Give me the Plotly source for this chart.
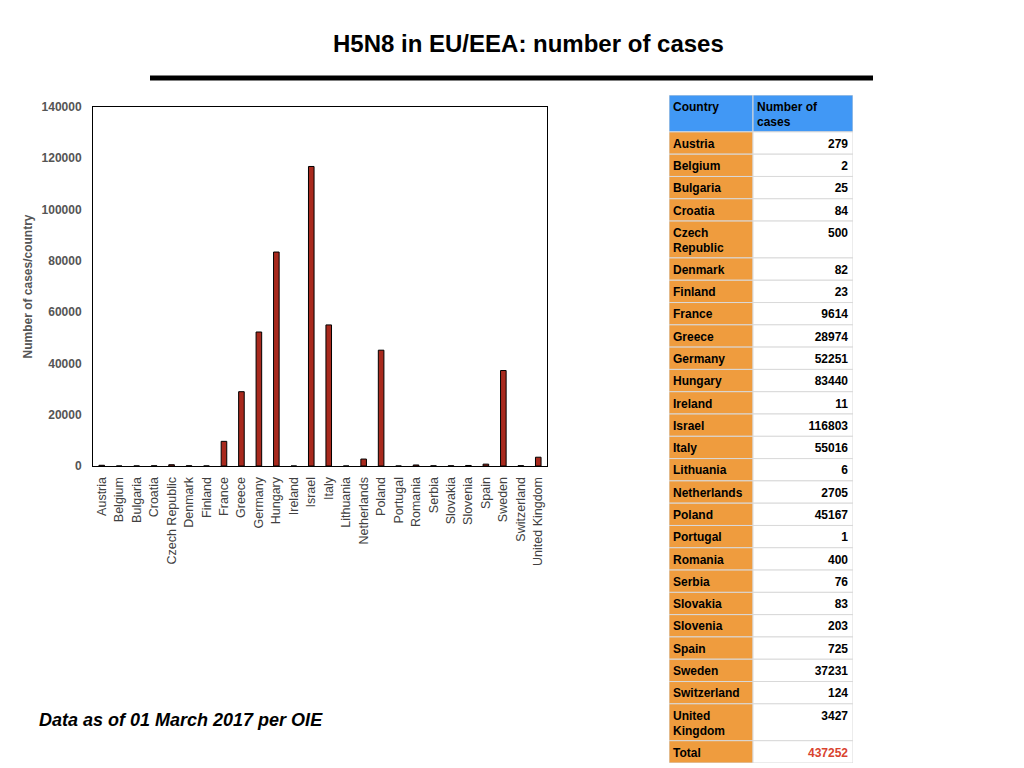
import plotly.graph_objects as go

countries = ['Austria', 'Belgium', 'Bulgaria', 'Croatia', 'Czech Republic', 'Denmark', 'Finland',
             'France', 'Greece', 'Germany', 'Hungary', 'Ireland', 'Israel', 'Italy', 'Lithuania',
             'Netherlands', 'Poland', 'Portugal', 'Romania', 'Serbia', 'Slovakia', 'Slovenia',
             'Spain', 'Sweden', 'Switzerland', 'United Kingdom']
cases = [279, 2, 25, 84, 500, 82, 23, 9614, 28974, 52251, 83440, 11, 116803, 55016, 6,
         2705, 45167, 1, 400, 76, 83, 203, 725, 37231, 124, 3427]
total_cases = 437252
y_ticks = [0, 20000, 40000, 60000, 80000, 100000, 120000, 140000]
header_labels = ['Country', 'Number of<br>cases']

W, H = 1024, 768
BLUE = '#4198f5'
ORANGE = '#ef9c3e'
BAR_RED = '#a8291d'
GRAY = '#555555'
GRID = '#d9d9d9'
FONT = 'Liberation Sans, Arial, sans-serif'

# table geometry (in px-like units of the table axes)
ROW_H = 22.3     # one-line row
LINE_H = 14.6    # extra height per extra text line
COL_W = [84, 100]


def px_x(v):
    return v / W


def px_y(v):
    return 1 - v / H


fig = go.Figure()

# ---- bar chart ----
fig.add_trace(go.Bar(
    x=countries, y=cases,
    marker=dict(color=BAR_RED, line=dict(color='black', width=1)),
    width=0.32, showlegend=False, hoverinfo='x+y',
))

# ---- table drawn with bars on a second pair of axes ----
row_country = [c.replace(' ', '<br>') for c in countries] + ['Total']
row_value = [str(v) for v in cases] + [str(total_cases)]
all_first = [header_labels[0]] + row_country
all_second = [header_labels[1]] + row_value

heights, tops = [], []
pos = 0.0
for a, b in zip(all_first, all_second):
    n_lines = max(a.count('<br>'), b.count('<br>')) + 1
    h = ROW_H + LINE_H * (n_lines - 1)
    tops.append(pos)
    heights.append(h)
    pos += h
table_total_h = pos
centers = [t + h / 2 for t, h in zip(tops, heights)]

col_fill = [ORANGE, 'white']
for ci in range(2):
    fills = [BLUE] + [col_fill[ci]] * (len(heights) - 1)
    fig.add_trace(go.Bar(
        orientation='h', y=centers, x=[COL_W[ci]] * len(heights),
        base=[sum(COL_W[:ci])] * len(heights), width=heights,
        marker=dict(color=fills, line=dict(color=GRID, width=1)),
        xaxis='x2', yaxis='y2', showlegend=False, hoverinfo='skip',
    ))

text_y = [t + 6.8 for t in tops]
fig.add_trace(go.Scatter(
    x=[4] * len(all_first), y=text_y, mode='text',
    text=['<b>' + s + '</b>' for s in all_first], textposition='bottom right',
    textfont=dict(family=FONT, size=12, color='black'),
    xaxis='x2', yaxis='y2', showlegend=False, hoverinfo='skip',
))
fig.add_trace(go.Scatter(
    x=[COL_W[0] + 4], y=[text_y[0]], mode='text',
    text=['<b>' + all_second[0] + '</b>'], textposition='bottom right',
    textfont=dict(family=FONT, size=12, color='black'),
    xaxis='x2', yaxis='y2', showlegend=False, hoverinfo='skip',
))
value_colors = ['black'] * (len(row_value) - 1) + ['#d9432f']
fig.add_trace(go.Scatter(
    x=[sum(COL_W) - 5] * len(row_value), y=text_y[1:], mode='text',
    text=['<b>' + s + '</b>' for s in row_value], textposition='bottom left',
    textfont=dict(family=FONT, size=12, color=value_colors),
    xaxis='x2', yaxis='y2', showlegend=False, hoverinfo='skip',
))

fig.update_layout(
    xaxis=dict(
        domain=[px_x(93), px_x(547)], automargin=False,
        tickangle=-90, showline=True, mirror=True, linecolor='black', linewidth=1,
        ticks='', ticklabelstandoff=5,
        tickfont=dict(family=FONT, size=12.5, color='#404040'),
    ),
    yaxis=dict(
        domain=[px_y(466), px_y(107)], automargin=False,
        range=[0, 140000], tickvals=y_ticks, ticktext=[str(t) for t in y_ticks],
        showgrid=False, zeroline=False, showline=True, mirror=True, linecolor='black', linewidth=1,
        ticks='', ticklabelstandoff=8,
        tickfont=dict(family=FONT, size=12, color=GRAY, weight='bold'),
        title=dict(text='Number of cases/country', standoff=6,
                   font=dict(family=FONT, size=12, color=GRAY, weight='bold')),
    ),
    xaxis2=dict(domain=[px_x(669), px_x(853)], range=[0, sum(COL_W)], visible=False,
                fixedrange=True, automargin=False),
    yaxis2=dict(domain=[px_y(763), px_y(95)], range=[table_total_h, 0], visible=False,
                fixedrange=True, anchor='x2', automargin=False),
    barmode='overlay',
)

fig.add_annotation(
    text='<b>H5N8 in EU/EEA: number of cases</b>', xref='paper', yref='paper',
    x=px_x(528), y=px_y(43), showarrow=False, xanchor='center', yanchor='middle',
    font=dict(family=FONT, size=24, color='black'),
)
fig.add_annotation(
    text='<b><i>Data as of 01 March 2017 per OIE</i></b>', xref='paper', yref='paper',
    x=px_x(37), y=px_y(720), showarrow=False, xanchor='left', yanchor='middle',
    font=dict(family=FONT, size=18, color='black'),
)
fig.add_shape(type='line', xref='paper', yref='paper',
              x0=px_x(150), x1=px_x(873), y0=px_y(78), y1=px_y(78),
              line=dict(color='black', width=5))

fig.update_layout(
    width=W, height=H, margin=dict(l=0, r=0, t=0, b=0, autoexpand=False),
    paper_bgcolor='white', plot_bgcolor='white',
)

fig.write_html("out.html", config={'displayModeBar': False},
               post_script="document.body.style.margin='0';")
